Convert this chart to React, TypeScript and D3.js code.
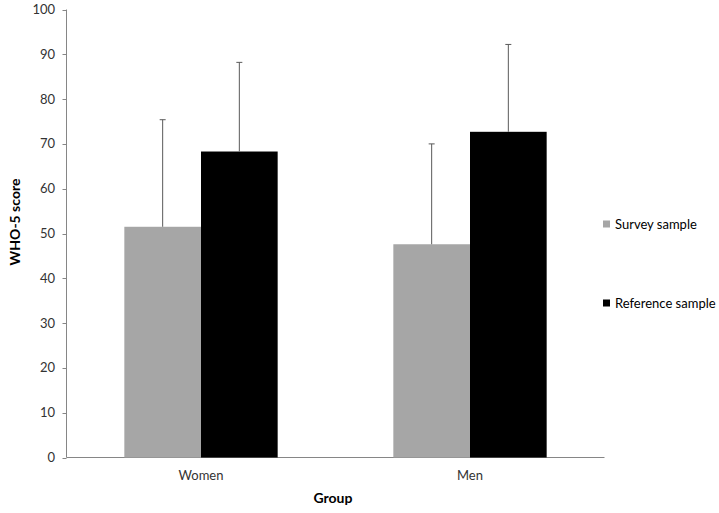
import React from "react";
import * as d3 from "d3";

const groups = ["Women", "Men"];
const seriesNames = ["Survey sample", "Reference sample"];
const seriesColors = ["#a6a6a6", "#000000"];
const surveyMeans = [51.5, 47.6];
const surveyErrTop = [75.4, 70.0];
const referenceMeans = [68.3, 72.7];
const referenceErrTop = [88.2, 92.2];
const yTicks = [0, 10, 20, 30, 40, 50, 60, 70, 80, 90, 100];

const W = 719;
const H = 513;
const left = 66.5;
const right = 604.5;
const top = 9.5;
const bottom = 457.5;
const FONT = "Lato, 'Open Sans', sans-serif";

export default function App() {
  const x = d3.scaleBand<string>().domain(groups).range([left, right]).paddingInner(0).paddingOuter(0);
  const y = d3.scaleLinear().domain([0, 100]).range([bottom, top]);
  const band = x.bandwidth();
  const barW = band * 0.285;
  const series = [
    { name: seriesNames[0], color: seriesColors[0], means: surveyMeans, err: surveyErrTop },
    { name: seriesNames[1], color: seriesColors[1], means: referenceMeans, err: referenceErrTop },
  ];
  return (
    <svg width={W} height={H} style={{ position: "absolute", left: 0, top: 0, background: "#fff" }}>
      <line x1={left} x2={left} y1={top} y2={bottom} stroke="#868686" strokeWidth={1} />
      <line x1={left} x2={right} y1={bottom} y2={bottom} stroke="#868686" strokeWidth={1} />
      {yTicks.map((t) => (
        <g key={t}>
          <line x1={left - 4} x2={left} y1={Math.round(y(t)) + 0.5} y2={Math.round(y(t)) + 0.5} stroke="#868686" />
          <text x={55} y={y(t)} dy="0.35em" textAnchor="end" fontFamily={FONT} fontSize={13} fill="#333">
            {t}
          </text>
        </g>
      ))}
      {groups.map((g, gi) => {
        const cx = (x(g) as number) + band / 2;
        return (
          <g key={g}>
            {series.map((s, si) => {
              const x0 = cx - barW + si * barW;
              return (
                <rect key={s.name} x={x0} y={y(s.means[gi])} width={barW} height={bottom - y(s.means[gi])} fill={s.color} />
              );
            })}
            {series.map((s, si) => {
              const xc = cx - barW + si * barW + barW / 2;
              return (
                <g key={s.name + "e"} stroke="#5a5a5a" strokeWidth={1}>
                  <line x1={xc} x2={xc} y1={y(s.means[gi])} y2={y(s.err[gi])} />
                  <line x1={xc - 3} x2={xc + 3} y1={y(s.err[gi])} y2={y(s.err[gi])} />
                </g>
              );
            })}
            <text x={cx} y={475} dy="0.35em" textAnchor="middle" fontFamily={FONT} fontSize={13} fill="#333">
              {g}
            </text>
          </g>
        );
      })}
      <text x={333} y={498} dy="0.35em" textAnchor="middle" fontFamily={FONT} fontSize={14} fontWeight="bold" fill="#000">
        Group
      </text>
      <text
        transform={`translate(15,222) rotate(-90)`}
        dy="0.35em"
        textAnchor="middle"
        fontFamily={FONT}
        fontSize={14}
        fontWeight="bold"
        fill="#000"
      >
        WHO-5 score
      </text>
      {series.map((s, i) => {
        const ly = i === 0 ? 224 : 303;
        return (
          <g key={s.name}>
            <rect x={603} y={ly - 3.5} width={7} height={7} fill={s.color} />
            <text x={615} y={ly} dy="0.35em" fontFamily={FONT} fontSize={13} fill="#000">
              {s.name}
            </text>
          </g>
        );
      })}
    </svg>
  );
}
